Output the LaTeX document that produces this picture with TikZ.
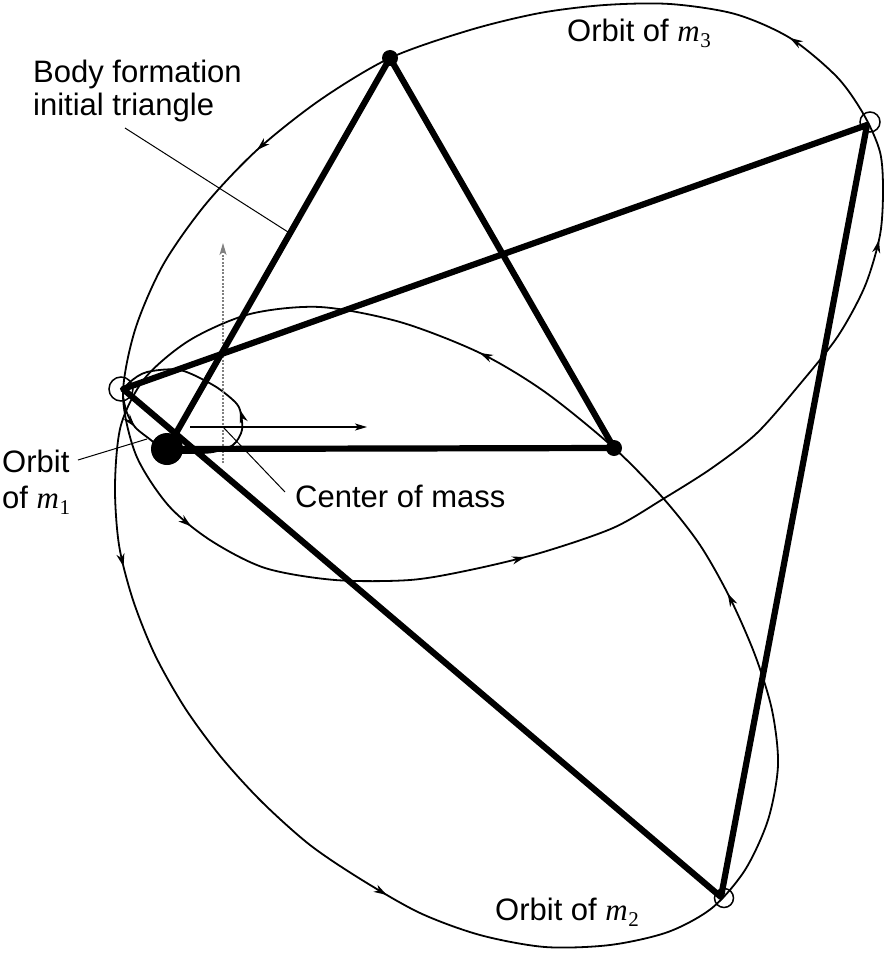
\documentclass[tikz,border=0pt]{standalone}
\usepackage{fontspec}
\setmainfont{Liberation Sans}
\newfontfamily\tms{Liberation Serif}
\usetikzlibrary{arrows.meta,decorations.markings}
\newcommand\massm[1]{{\tms\itshape m}\kern0.5pt\raisebox{-6pt}{\tms\fontsize{21}{21}\selectfont #1}}
\newcommand\lblfont{\fontsize{31}{33}\selectfont}
\tikzset{
  otip/.tip={Stealth[length=13pt,width=8pt,inset=4pt]},
  orbit/.style={line width=1.8pt},
  tri/.style={line width=6.2pt, line cap=round, line join=round},
  leader/.style={line width=1pt},
  lbl/.style={inner sep=0pt, anchor=base west, font=\lblfont},
  body/.style={circle, fill=black, inner sep=0pt},
  final/.style={circle, draw, line width=1.5pt, inner sep=0pt},
  axis/.style={line width=1.2pt, -{Stealth[length=12pt,width=7pt,inset=3pt]}},
  axisv/.style={line width=1.1pt, gray, dash pattern=on 2pt off 1.5pt, -{Stealth[length=12pt,width=7pt,inset=3pt]}},
}
\begin{document}
\begin{tikzpicture}[x=1pt,y=-1pt]
\useasboundingbox (0,0) rectangle (887,955);

% body positions
\coordinate (m1i) at (167,449);
\coordinate (m2i) at (614,448);
\coordinate (m3i) at (390,58);
\coordinate (m1f) at (123,389);
\coordinate (m2f) at (721,897);
\coordinate (m3f) at (867,125);
\coordinate (o) at (223,427);

% orbit of m3
\draw[orbit, decoration={markings,
    mark=at position 0.0384 with {\arrow{otip}},
    mark=at position 0.2477 with {\arrow{otip}},
    mark=at position 0.414 with {\arrow{otip}},
    mark=at position 0.651 with {\arrow{otip}},
    mark=at position 0.764 with {\arrow{otip}}}, postaction=decorate]
  plot[smooth cycle] coordinates {(390,58) (320,100) (257,150) (205,205) (163,265) (135,330) (123,395) (136,455) (168,505) (210,540) (265,568) (335,580) (410,580) (470,570) (540,553) (613,528) (663,499) (712,468) (757,433) (800,384) (838,336) (865,286) (880,235) (883,190) (880,152) (864,115) (837,77) (790,38) (735,14) (670,4) (605,5) (540,13) (470,30)};

% orbit of m2
\draw[orbit, decoration={markings,
    mark=at position 0.0375 with {\arrow{otip}},
    mark=at position 0.313 with {\arrow{otip}},
    mark=at position 0.5265 with {\arrow{otip}},
    mark=at position 0.8644 with {\arrow{otip}}}, postaction=decorate]
  plot[smooth cycle] coordinates {(614,448) (545,392) (480,353) (400,322) (320,307) (250,314) (190,340) (145,378) (121,425) (115,485) (119,545) (133,600) (155,655) (185,708) (221,757) (262,802) (310,845) (362,880) (420,913) (480,935) (545,947) (610,945) (668,932) (712,908) (745,870) (768,820) (778,765) (772,710) (755,655) (730,598) (700,545) (663,498)};

% orbit of m1
\draw[orbit, decoration={markings,
    mark=at position 0.256 with {\arrow{otip}},
    mark=at position 0.803 with {\arrow{otip}}}, postaction=decorate]
  plot[smooth cycle] coordinates {(167,451) (190,453) (213,452) (233,445) (242,430) (240,410) (233,400) (213,385) (180,370) (147,372) (130,382) (123,393) (127,413) (135,427) (147,437)};

% center of mass axes
\coordinate (vb) at (223,463);
\coordinate (vt) at (223,243);
\coordinate (hl) at (190,427);
\coordinate (hr) at (367,427);
\draw[axisv] (vb) -- (vt);
\draw[axis] (hl) -- (hr);

% triangles
\draw[tri] (m1i) -- (m3i) -- (m2i) -- cycle;
\draw[tri] (m1f) -- (m3f) -- (m2f) -- cycle;

% bodies
\node[body, minimum size=32pt] (b1) at (m1i) {};
\node[body, minimum size=16pt] (b2) at (m2i) {};
\node[body, minimum size=16pt] (b3) at (m3i) {};
\node[final, minimum size=24pt] (f1) at (121,389) {};
\node[final, minimum size=19pt] (f2) at (724,898) {};
\node[final, minimum size=20pt] (f3) at (870,122) {};

% labels
\node[lbl] (bf1) at (33,83) {Body formation};
\node[lbl] (bf2) at (33,116) {initial triangle};
\node[lbl] (o3) at (567,42) {Orbit of \massm{3}};
\node[lbl] (o2) at (495,920) {Orbit of \massm{2}};
\node[lbl] (o1a) at (2,472) {Orbit};
\node[lbl] (o1b) at (2,508) {of \massm{1}};
\node[lbl] (com) at (295,507) {Center of mass};

% leaders
\coordinate (bfs) at (125,128);
\coordinate (bfe) at (288,232);
\coordinate (o1s) at (78,460);
\coordinate (o1e) at (147,439);
\coordinate (cms) at (285,492);
\draw[leader] (bfs) -- (bfe);
\draw[leader] (o1s) -- (o1e);
\draw[leader] (cms) -- (o);
\end{tikzpicture}
\end{document}
